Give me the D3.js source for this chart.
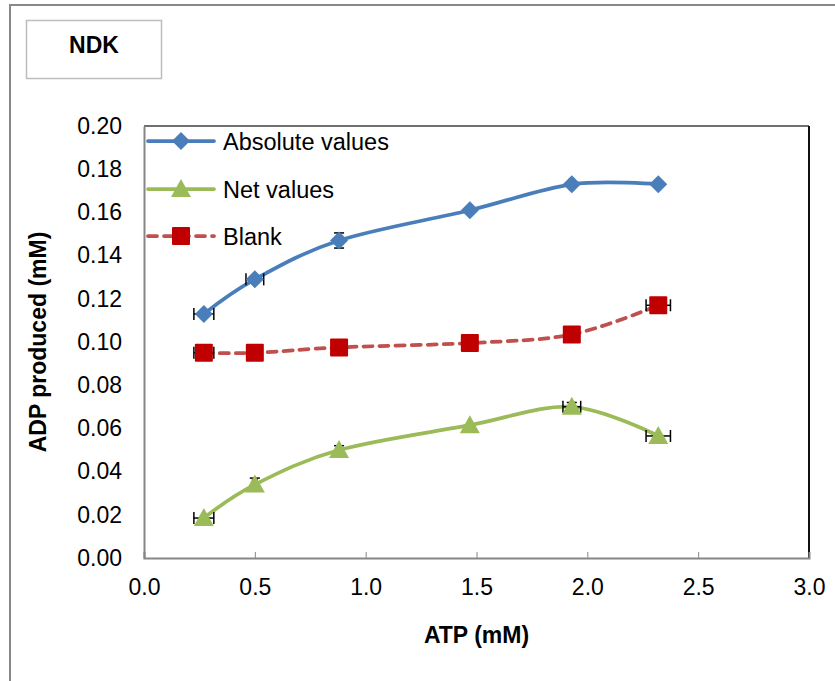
<!DOCTYPE html>
<html>
<head>
<meta charset="utf-8">
<script src="https://cdn.jsdelivr.net/npm/d3@7"></script>
<style>
  html, body { margin: 0; padding: 0; background: #fff; }
  svg { display: block; font-family: "Liberation Sans", Arial, sans-serif; }
</style>
</head>
<body>
<svg id="chart" width="835" height="681"></svg>
<script>
// ---- data ----
const atp = [0.27, 0.50, 0.88, 1.47, 1.93, 2.32];
const absoluteValues = [0.113, 0.129, 0.147, 0.161, 0.173, 0.173];
const netValues = [0.0185, 0.034, 0.050, 0.0615, 0.070, 0.0565];
const blankValues = [0.095, 0.095, 0.0975, 0.0995, 0.1035, 0.117];
const absXErr = [0.045, 0.04, 0, 0, 0.01, 0];
const absYErr = [0, 0, 0.0035, 0, 0.001, 0];
const netXErr = [0.045, 0.01, 0, 0, 0.04, 0.055];
const netYErr = [0, 0.003, 0.002, 0, 0.002, 0];
const blankXErr = [0.045, 0, 0, 0, 0.01, 0.055];
const blankYErr = [0, 0, 0, 0, 0, 0];
const xTicks = [0, 0.5, 1.0, 1.5, 2.0, 2.5, 3.0];
const yTicks = [0, 0.02, 0.04, 0.06, 0.08, 0.10, 0.12, 0.14, 0.16, 0.18, 0.20];
const seriesNames = ["Absolute values", "Net values", "Blank"];
const chartTitle = "NDK";
const xTitle = "ATP (mM)";
const yTitle = "ADP produced (mM)";

const FS = 23;
const svg = d3.select("#chart");
const L = 144, R = 809, T = 126, B = 558;
const x = d3.scaleLinear().domain([0, 3]).range([L, R]);
const y = d3.scaleLinear().domain([0, 0.2]).range([B, T]);

// outer frame
svg.append("line").attr("x1", 10).attr("x2", 10).attr("y1", 5).attr("y2", 681)
  .attr("stroke", "#888").attr("stroke-width", 2);
svg.append("line").attr("x1", 9).attr("x2", 835).attr("y1", 5).attr("y2", 5)
  .attr("stroke", "#888").attr("stroke-width", 2);

// title box
svg.append("rect").attr("x", 26.5).attr("y", 20.5).attr("width", 135).attr("height", 58)
  .attr("fill", "#fff").attr("stroke", "#bdbdbd").attr("stroke-width", 1.5);
svg.append("text").attr("x", 94).attr("y", 53).attr("text-anchor", "middle")
  .attr("font-size", FS).attr("font-weight", "bold").text(chartTitle);

// plot border: top & right
svg.append("line").attr("x1", L).attr("x2", R).attr("y1", T).attr("y2", T)
  .attr("stroke", "#404040").attr("stroke-width", 1.5);
svg.append("line").attr("x1", R).attr("x2", R).attr("y1", T).attr("y2", B)
  .attr("stroke", "#111").attr("stroke-width", 2);

// axes
const xAxis = d3.axisBottom(x).tickValues(xTicks).tickSize(-6).tickPadding(0).tickFormat(d3.format(".1f"));
const gx = svg.append("g").attr("transform", `translate(0,${B})`).call(xAxis);
gx.select(".domain").attr("stroke", "#868686").attr("stroke-width", 2);
gx.selectAll(".tick line").attr("stroke", "#868686").attr("stroke-width", 1);
gx.selectAll(".tick text").attr("font-size", FS).attr("fill", "#000")
  .attr("font-family", "Liberation Sans, Arial, sans-serif").attr("y", 37).attr("dy", null);

const yAxis = d3.axisLeft(y).tickValues(yTicks).tickSize(0).tickPadding(22).tickFormat(d3.format(".2f"));
const gy = svg.append("g").attr("transform", `translate(${L},0)`).call(yAxis);
gy.select(".domain").attr("stroke", "#868686").attr("stroke-width", 2);
gy.selectAll(".tick text").attr("font-size", FS).attr("fill", "#000")
  .attr("font-family", "Liberation Sans, Arial, sans-serif");

// axis titles
svg.append("text").attr("x", (L + R) / 2).attr("y", 643).attr("text-anchor", "middle")
  .attr("font-size", FS).attr("font-weight", "bold").text(xTitle);
svg.append("text").attr("transform", `translate(46,${(T + B) / 2}) rotate(-90)`)
  .attr("text-anchor", "middle").attr("font-size", FS).attr("font-weight", "bold").text(yTitle);

const series = [
  { name: seriesNames[0], vals: absoluteValues, xe: absXErr, ye: absYErr, line: "#4A7EBB", fill: "#4A7EBB", dash: null, shape: "diamond" },
  { name: seriesNames[1], vals: netValues, xe: netXErr, ye: netYErr, line: "#9BBB59", fill: "#9BBB59", dash: null, shape: "triangle" },
  { name: seriesNames[2], vals: blankValues, xe: blankXErr, ye: blankYErr, line: "#C0504D", fill: "#C00000", dash: "9,7", shape: "square" }
];

const lineGen = d3.line().x(d => x(d[0])).y(d => y(d[1])).curve(d3.curveCardinal.tension(0));

function marker(g, shape, cx, cy, fill) {
  if (shape === "diamond") {
    g.append("path").attr("d", `M${cx},${cy - 9}L${cx + 9},${cy}L${cx},${cy + 9}L${cx - 9},${cy}Z`).attr("fill", fill);
  } else if (shape === "triangle") {
    g.append("path").attr("d", `M${cx},${cy - 10}L${cx + 10},${cy + 8}L${cx - 10},${cy + 8}Z`).attr("fill", fill);
  } else {
    g.append("rect").attr("x", cx - 9).attr("y", cy - 9).attr("width", 18).attr("height", 18)
      .attr("rx", 1).attr("fill", fill);
  }
}

series.forEach(s => {
  const pts = atp.map((a, i) => [a, s.vals[i]]);
  svg.append("path").datum(pts).attr("d", lineGen).attr("fill", "none")
    .attr("stroke", s.line).attr("stroke-width", 3.75).attr("stroke-linecap", "round")
    .attr("stroke-dasharray", s.dash);
  const eg = svg.append("g").attr("stroke", "#000").attr("stroke-width", 1.5);
  pts.forEach((p, i) => {
    const cx = x(p[0]), cy = y(p[1]);
    if (s.xe[i] > 0) {
      const x0 = x(p[0] - s.xe[i]), x1 = x(p[0] + s.xe[i]);
      eg.append("line").attr("x1", x0).attr("x2", x1).attr("y1", cy).attr("y2", cy);
      eg.append("line").attr("x1", x0).attr("x2", x0).attr("y1", cy - 6).attr("y2", cy + 6);
      eg.append("line").attr("x1", x1).attr("x2", x1).attr("y1", cy - 6).attr("y2", cy + 6);
    }
    if (s.ye[i] > 0) {
      const y0 = y(p[1] - s.ye[i]), y1 = y(p[1] + s.ye[i]);
      eg.append("line").attr("x1", cx).attr("x2", cx).attr("y1", y0).attr("y2", y1);
      eg.append("line").attr("x1", cx - 5).attr("x2", cx + 5).attr("y1", y0).attr("y2", y0);
      eg.append("line").attr("x1", cx - 5).attr("x2", cx + 5).attr("y1", y1).attr("y2", y1);
    }
  });
  const mg = svg.append("g");
  pts.forEach(p => marker(mg, s.shape, x(p[0]), y(p[1]), s.fill));
});

// legend
const legY = [141, 189, 236];
series.forEach((s, i) => {
  const g = svg.append("g");
  g.append("line").attr("x1", 148).attr("x2", 214).attr("y1", legY[i]).attr("y2", legY[i])
    .attr("stroke", s.line).attr("stroke-width", 3.75).attr("stroke-linecap", "round")
    .attr("stroke-dasharray", s.dash);
  marker(g, s.shape, 181, legY[i], s.fill);
  g.append("text").attr("x", 223).attr("y", legY[i] + 8.5).attr("font-size", 23.5).text(s.name);
});
</script>
</body>
</html>
